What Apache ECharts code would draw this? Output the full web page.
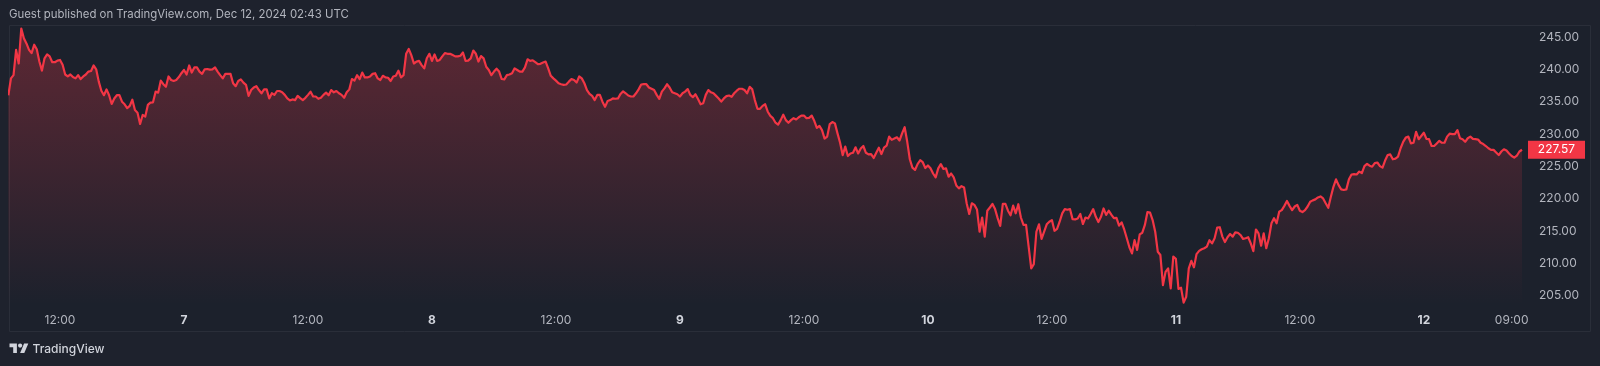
<!DOCTYPE html>
<html><head><meta charset="utf-8">
<style>html,body{margin:0;padding:0;background:#1e222d}#c{width:1600px;height:366px}</style>
<script src="https://cdn.jsdelivr.net/npm/echarts@6/dist/echarts.min.js"></script>
</head><body><div id="c"></div>
<script>
// 15-minute prices, one row per hour. Dec 6 starts at 07:00.
const dec6 = [
236.0,238.6,239.1,243.0, 240.9,246.3,244.8,244.0, 243.0,242.5,243.8,243.1, 241.2,239.8,241.7,242.3,
242.0,241.1,241.1,241.35, 241.45,240.7,239.2,238.9, 239.2,238.8,238.6,239.1, 238.5,238.9,239.2,239.65,
239.75,240.6,240.0,238.1, 236.7,236.0,236.9,236.0, 234.65,235.5,236.0,236.0, 235.0,234.6,234.0,234.35,
235.3,233.7,233.3,231.55, 232.95,232.7,234.5,234.85, 234.9,236.55,236.4,238.25, 237.7,237.3,238.9,238.35,
238.2,238.35,238.8,239.4];
const dec7 = [
239.9,239.2,240.6,239.5, 240.3,240.3,239.65,239.3, 240.0,240.05,239.95,240.0, 240.3,239.65,239.1,238.6,
239.3,239.3,239.3,237.85, 237.4,238.2,238.45,237.95, 237.6,235.9,236.8,237.2, 237.4,236.8,236.3,236.9,
236.9,235.5,236.3,236.05, 236.65,236.65,236.45,236.05, 235.5,235.2,235.35,235.25, 235.9,235.55,235.25,235.6,
236.05,236.55,235.8,235.8, 235.45,235.6,236.05,236.4, 236.0,236.8,236.45,236.65, 236.3,236.05,235.6,236.45,
236.9,238.5,238.25,239.1, 238.5,239.5,238.75,238.75, 238.9,239.3,239.4,238.6, 238.35,239.0,238.75,238.7,
238.2,238.9,239.0,239.8, 238.75,239.1,242.4,243.15, 242.2,240.9,241.2,241.3, 240.65,240.15,241.7,242.4];
const dec8 = [
241.3,242.3,241.3,241.45, 242.0,242.5,242.4,242.4, 242.2,242.0,242.0,242.1, 242.6,241.3,241.35,241.7,
242.9,242.4,241.2,242.05, 241.7,240.4,239.9,239.1, 239.65,240.1,239.65,238.5, 238.45,239.1,239.2,239.4,
240.15,239.9,239.65,239.65, 240.3,241.55,241.3,241.4, 241.1,240.8,240.85,241.05, 241.2,240.15,239.0,238.6,
238.25,237.85,237.7,237.6, 237.65,238.1,238.5,238.35, 237.95,238.9,238.6,237.85, 236.8,236.2,235.9,235.25,
236.05,236.05,235.0,234.2, 235.1,235.25,235.5,235.45, 235.5,236.2,236.6,236.3, 235.95,235.8,235.8,236.3,
236.9,237.65,237.7,237.7, 237.2,237.0,236.8,236.05, 235.45,236.55,237.05,237.7, 237.2,236.45,236.3,236.15];
const dec9 = [
235.8,236.3,236.55,236.95, 236.05,235.7,236.15,235.4, 234.6,234.75,236.05,236.8, 236.45,236.3,235.9,235.5,
235.0,235.5,235.85,235.95, 235.75,236.3,236.7,237.0, 237.0,236.8,236.3,237.3, 236.9,235.25,233.9,233.9,
234.35,234.6,233.45,232.8, 232.45,231.75,231.45,232.15, 233.0,232.15,231.75,232.15, 232.45,232.25,232.6,232.85,
232.85,232.45,232.5,232.85, 232.05,230.95,231.25,230.6, 229.3,229.6,231.55,231.85, 231.65,230.1,228.65,226.75,
228.05,226.6,227.0,227.1, 227.95,227.0,227.75,228.15, 227.1,226.85,226.9,226.3, 227.1,227.9,226.9,227.9,
228.2,229.6,229.1,229.3, 229.5,229.0,230.1,231.05, 228.8,226.1,224.8,224.45, 225.35,225.95,225.65,224.75];
const dec10 = [
225.15,224.7,223.9,223.3, 224.7,225.35,224.6,224.7, 223.4,223.9,223.3,222.05, 221.6,221.95,221.75,219.3,
217.65,219.3,219.05,218.35, 214.9,217.1,214.15,218.15, 218.65,219.2,218.4,217.0, 215.8,219.2,219.2,218.15,
217.45,218.95,217.75,219.15, 217.1,215.95,215.95,212.6, 209.25,209.9,214.9,216.05, 213.8,214.9,216.05,216.45,
216.7,215.05,215.35,216.45, 217.75,218.4,218.3,218.4, 216.85,216.8,216.95,217.65, 216.1,217.1,216.95,217.65,
218.4,217.2,216.4,217.2, 218.5,217.5,218.15,217.55, 217.0,217.05,215.85,216.35, 215.25,213.9,212.5,211.55,
213.6,212.1,214.5,214.75, 215.95,217.95,217.85,216.7, 214.9,211.8,211.3,206.65, 208.7,209.25,206.15,211.05];
const dec11 = [
210.7,206.05,206.25,203.95, 204.85,209.25,210.4,209.4, 211.45,211.95,212.2,212.35, 212.6,213.6,213.1,213.9,
215.55,215.6,214.15,213.3, 214.05,214.55,214.15,214.8, 214.75,214.4,213.8,213.9, 214.05,213.1,211.9,215.25,
214.65,212.75,214.65,212.35, 213.9,216.2,217.0,216.2, 218.0,218.25,218.9,219.65, 218.9,218.25,218.8,219.05,
218.15,217.95,218.25,218.8, 219.55,219.75,219.9,220.2, 220.35,220.05,219.3,218.6, 220.3,221.85,223.0,222.1,
221.45,221.35,221.45,223.0, 223.75,223.8,223.75,224.2, 223.95,225.05,225.4,225.1, 224.95,225.5,225.6,225.05,
224.8,225.9,226.75,226.85, 226.1,226.2,226.5,227.8, 228.8,229.45,229.6,228.55, 228.65,230.35,229.2,229.7];
const dec12 = [
230.2,229.25,229.2,228.15, 228.15,228.55,228.95,228.65, 228.65,229.6,230.05,230.0, 230.0,230.6,229.35,229.2,
228.8,229.35,229.6,229.25, 229.2,229.15,228.65,228.45, 228.15,227.8,227.55,227.55, 227.15,226.75,227.3,227.65,
227.45,227.0,226.6,226.35, 226.65,227.3,227.57];

const priceTicks = [205,210,215,220,225,230,235,240,245];
// hours counted from Dec 6 00:00
const timeTicks  = [12,24,36,48,60,72,84,96,108,120,132,144,152.5];
const timeLabels = ['12:00','7','12:00','8','12:00','9','12:00','10','12:00','11','12:00','12','09:00'];
const firstHour = 7, stepHours = 0.25;

const prices = [].concat(dec6,dec7,dec8,dec9,dec10,dec11,dec12);
const points = prices.map((p,i)=>[firstHour+i*stepHours,p]);
const last = points[points.length-1];

const FONT = 'Inter, Roboto, sans-serif';
const chart = echarts.init(document.getElementById('c'),null,{renderer:'canvas'});
chart.setOption({
  animation:false,
  backgroundColor:'#1e222d',
  grid:{left:9.5,right:78,top:25,bottom:61,show:false},
  xAxis:{type:'value',min:7.11,max:153.5,
    axisLine:{show:false},axisTick:{show:false},splitLine:{show:false},
    axisLabel:{customValues:timeTicks,margin:9,color:'#b2b5be',fontFamily:FONT,fontSize:12,
      showMinLabel:true,showMaxLabel:true,
      formatter:v=>{const l=timeLabels[timeTicks.indexOf(v)];return /:/.test(l)?l:'{d|'+l+'}';},
      rich:{d:{fontWeight:'bold',color:'#d1d4dc',fontFamily:FONT,fontSize:12}}}},
  yAxis:{type:'value',position:'right',min:203.58,max:246.85,
    axisLine:{show:false},axisTick:{show:false},splitLine:{show:false},
    axisLabel:{customValues:priceTicks,margin:17,color:'#b2b5be',fontFamily:FONT,fontSize:12,align:'left',
      formatter:v=>v.toFixed(2)}},
  series:[{type:'line',data:points,showSymbol:false,symbol:'none',smooth:false,
    lineStyle:{color:'#f23645',width:2.2,join:'round'},
    areaStyle:{origin:'start',color:{type:'linear',x:0,y:0,x2:0,y2:1,colorStops:[
      {offset:0,color:'rgba(242,54,69,0.44)'},{offset:1,color:'rgba(242,54,69,0.0)'}]}},
    markPoint:{silent:true,symbol:'rect',symbolSize:[57,18],symbolOffset:[34.5,0],
      data:[{coord:last,value:last[1]}],
      itemStyle:{color:'#f23645'},
      label:{show:true,position:'inside',color:'#fff',fontFamily:FONT,fontSize:12,
        formatter:p=>p.value.toFixed(2)}}}],
  graphic:[
    {type:'rect',z:-10,silent:true,shape:{x:9.5,y:25.5,width:1581,height:306},
      style:{fill:'#1c212c',stroke:'#2a2e39',lineWidth:1}},
    {type:'text',x:9,y:9.5,silent:true,style:{text:'Guest published on TradingView.com, Dec 12, 2024 02:43 UTC',
      fill:'#b2b5be',font:'11.4px '+FONT}},
    {type:'polygon',silent:true,shape:{points:[[9.5,343.5],[16.9,343.5],[16.9,353],[13.2,353],[13.2,347.2],[9.5,347.2]]},style:{fill:'#d1d4dc'}},
    {type:'polygon',silent:true,shape:{points:[[20.1,353],[24.1,343.5],[28.3,343.5],[24.3,353]]},style:{fill:'#d1d4dc'}},
    {type:'circle',silent:true,shape:{cx:20.1,cy:345.6,r:2.1},style:{fill:'#d1d4dc'}},
    {type:'text',x:32.5,y:343.5,silent:true,style:{text:'TradingView',fill:'#d1d4dc',font:'500 12px '+FONT}}
  ]
});
</script></body></html>
